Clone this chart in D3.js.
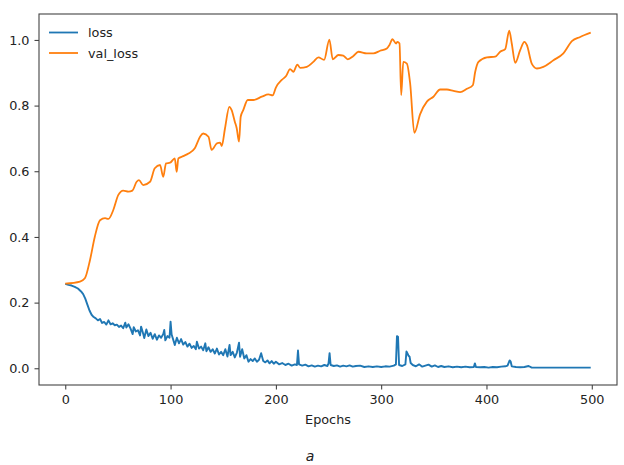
<!DOCTYPE html>
<html>
<head>
<meta charset="utf-8">
<script src="https://cdn.jsdelivr.net/npm/d3@7"></script>
<style>
  body { margin: 0; background: #fff; }
  svg { display: block; font-family: "DejaVu Sans", sans-serif; }
</style>
</head>
<body>
<svg width="624" height="465"></svg>
<script>
// training history: [epoch, value]
var lossPoints = [[0,0.257],[3,0.254],[6,0.252],[9,0.248],[12,0.243],[15,0.234],[17,0.226],[19,0.212],[21,0.194],[23,0.176],[25,0.163],[27,0.156],[29,0.152],[31,0.146],[33,0.150],[35,0.138],[37,0.141],[39,0.133],[41,0.146],[43,0.134],[45,0.137],[47,0.131],[49,0.133],[51,0.126],[53,0.130],[55,0.122],[57,0.139],[58,0.124],[60,0.134],[62,0.121],[64,0.104],[65,0.125],[67,0.112],[69,0.116],[71,0.100],[72,0.127],[74,0.105],[75,0.092],[77,0.118],[79,0.098],[81,0.108],[83,0.090],[85,0.104],[87,0.087],[89,0.100],[91,0.093],[93,0.104],[94,0.117],[95,0.085],[97,0.098],[99,0.093],[100,0.142],[101,0.103],[103,0.082],[104,0.071],[106,0.093],[108,0.076],[110,0.089],[112,0.072],[114,0.080],[116,0.066],[118,0.075],[120,0.062],[122,0.068],[124,0.058],[125,0.081],[127,0.060],[129,0.066],[131,0.055],[133,0.076],[134,0.052],[136,0.064],[138,0.050],[140,0.058],[142,0.045],[144,0.060],[146,0.042],[148,0.050],[150,0.040],[152,0.058],[154,0.036],[156,0.071],[157,0.040],[159,0.050],[161,0.033],[163,0.048],[165,0.078],[166,0.035],[168,0.058],[170,0.030],[172,0.040],[174,0.020],[176,0.028],[178,0.022],[180,0.030],[182,0.020],[184,0.026],[186,0.046],[188,0.022],[190,0.018],[192,0.024],[194,0.015],[196,0.022],[198,0.014],[200,0.020],[203,0.012],[206,0.016],[209,0.010],[212,0.014],[215,0.008],[218,0.012],[220,0.010],[221,0.054],[222,0.012],[225,0.008],[228,0.011],[231,0.006],[234,0.009],[237,0.005],[240,0.008],[243,0.006],[246,0.010],[249,0.007],[250,0.015],[251,0.046],[252,0.010],[255,0.007],[258,0.009],[261,0.005],[264,0.008],[267,0.006],[270,0.009],[273,0.005],[276,0.007],[280,0.008],[284,0.004],[288,0.006],[292,0.004],[296,0.006],[300,0.004],[304,0.006],[308,0.005],[312,0.008],[314,0.012],[315,0.098],[316,0.096],[317,0.010],[320,0.007],[323,0.012],[324,0.051],[325,0.045],[326,0.038],[327,0.035],[328,0.016],[330,0.010],[333,0.006],[336,0.012],[339,0.005],[342,0.008],[345,0.011],[348,0.005],[351,0.009],[354,0.004],[357,0.007],[360,0.004],[364,0.006],[368,0.003],[372,0.005],[376,0.003],[380,0.005],[384,0.003],[388,0.004],[389,0.015],[390,0.004],[394,0.003],[398,0.004],[402,0.002],[406,0.004],[410,0.003],[414,0.005],[418,0.006],[420,0.008],[422,0.024],[423,0.020],[424,0.006],[428,0.004],[432,0.003],[436,0.004],[440,0.007],[443,0.002],[450,0.002],[460,0.002],[470,0.002],[480,0.002],[490,0.002],[499,0.002]];

var valLossPoints = [[0,0.258],[14,0.264],[18.6,0.274],[23.5,0.33],[28,0.40],[33,0.451],[37.8,0.457],[41,0.455],[45.6,0.482],[50.4,0.528],[55,0.541],[60,0.538],[63.7,0.541],[67.8,0.568],[70,0.573],[74,0.558],[80.5,0.568],[85,0.609],[90,0.619],[93,0.583],[95.7,0.624],[99.5,0.626],[104,0.639],[105.8,0.598],[107.4,0.639],[112,0.646],[117,0.654],[123,0.670],[128,0.705],[131,0.715],[136,0.705],[139,0.665],[144,0.685],[147,0.687],[148.6,0.677],[151.7,0.731],[155.8,0.796],[158,0.786],[161,0.751],[162.8,0.731],[165,0.690],[166.6,0.766],[169,0.786],[173.3,0.817],[178.6,0.817],[186.6,0.827],[192.9,0.834],[197,0.831],[200,0.855],[205.6,0.878],[209.7,0.890],[213.5,0.911],[216.6,0.903],[220.4,0.925],[223,0.915],[229.4,0.918],[235.6,0.933],[240.4,0.947],[245.8,0.939],[250.8,1.001],[254,0.941],[259.4,0.954],[264,0.952],[268.3,0.941],[273.6,0.951],[278.4,0.964],[286.3,0.959],[292.6,0.959],[299,0.967],[305.4,0.974],[307.8,0.984],[310.7,1.002],[314.2,0.989],[315.4,0.994],[317.4,0.989],[319,0.832],[321,0.933],[324.4,0.928],[327.5,0.868],[331.5,0.717],[337,0.774],[343.4,0.812],[349.6,0.827],[356,0.849],[362.4,0.849],[368.7,0.845],[375,0.841],[381.4,0.851],[387,0.862],[389.3,0.903],[392.4,0.933],[400.4,0.947],[408.3,0.949],[413,0.964],[417.8,0.972],[421.6,1.028],[424,0.989],[427.3,0.930],[432,0.969],[436,0.994],[438.4,0.984],[443,0.928],[447.9,0.913],[454,0.918],[463.6,0.938],[473,0.959],[481.1,0.996],[489,1.009],[499,1.022]];

var xTicks = [0, 100, 200, 300, 400, 500];
var yTicks = [0.0, 0.2, 0.4, 0.6, 0.8, 1.0];
var seriesNames = ["loss", "val_loss"];
var seriesColors = ["#1f77b4", "#ff7f0e"];

var svg = d3.select("svg");
var plot = {left: 39, right: 617, top: 14, bottom: 385};

var x = d3.scaleLinear().domain([-24.95, 523.95]).range([plot.left, plot.right]);
var y = d3.scaleLinear().domain([-0.0509, 1.0789]).range([plot.bottom, plot.top]);

var lossLine = d3.line()
    .x(function(d){ return x(d[0]); })
    .y(function(d){ return y(d[1]); });
var valLine = d3.line()
    .curve(d3.curveMonotoneX)
    .x(function(d){ return x(d[0]); })
    .y(function(d){ return y(d[1]); });

svg.append("path")
    .datum(lossPoints)
    .attr("d", lossLine)
    .attr("fill", "none")
    .attr("stroke", seriesColors[0])
    .attr("stroke-width", 1.9)
    .attr("stroke-linejoin", "round");
svg.append("path")
    .datum(valLossPoints)
    .attr("d", valLine)
    .attr("fill", "none")
    .attr("stroke", seriesColors[1])
    .attr("stroke-width", 1.8)
    .attr("stroke-linejoin", "round");

// axes
var xAxis = svg.append("g")
    .attr("transform", "translate(0," + plot.bottom + ")")
    .call(d3.axisBottom(x).tickValues(xTicks).tickSize(4.5).tickPadding(5).tickFormat(d3.format("d")));
var yAxis = svg.append("g")
    .attr("transform", "translate(" + plot.left + ",0)")
    .call(d3.axisLeft(y).tickValues(yTicks).tickSize(4.5).tickPadding(5).tickFormat(d3.format(".1f")));
[xAxis, yAxis].forEach(function(a){
    a.select(".domain").remove();
    a.selectAll("line").attr("stroke", "#333");
    a.selectAll("text").attr("fill", "#222").style("font-size", "12.8px").style("font-family", "DejaVu Sans");
});

// frame
svg.append("rect")
    .attr("x", plot.left).attr("y", plot.top)
    .attr("width", plot.right - plot.left).attr("height", plot.bottom - plot.top)
    .attr("fill", "none").attr("stroke", "#444").attr("stroke-width", 1.1);

// legend
var legend = svg.append("g");
seriesNames.forEach(function(name, i){
    var ly = 32.5 + i * 20.5;
    legend.append("line")
        .attr("x1", 49).attr("x2", 78).attr("y1", ly).attr("y2", ly)
        .attr("stroke", seriesColors[i]).attr("stroke-width", 1.8);
    legend.append("text")
        .attr("x", 88).attr("y", ly + 4.5)
        .attr("fill", "#222").style("font-size", "12.8px")
        .text(name);
});

svg.append("text")
    .attr("x", (plot.left + plot.right) / 2).attr("y", 424)
    .attr("text-anchor", "middle").attr("fill", "#222").style("font-size", "12.8px")
    .text("Epochs");

svg.append("text")
    .attr("x", 310).attr("y", 461)
    .attr("text-anchor", "middle").attr("fill", "#222")
    .style("font-size", "14px").style("font-style", "italic")
    .text("a");
</script>
</body>
</html>
